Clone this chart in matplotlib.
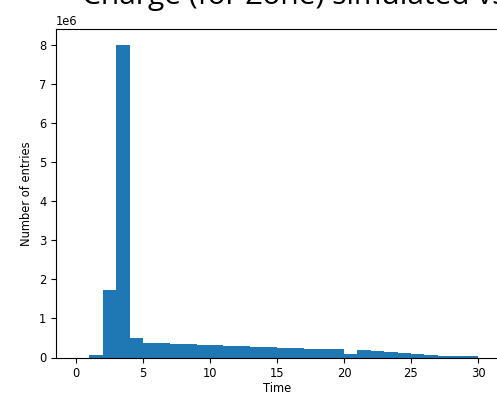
import numpy as np
import matplotlib
matplotlib.use("Agg")
import matplotlib.pyplot as plt

# histogram of simulated charge arrival times, one bin per time unit
bin_edges = np.arange(0, 31)
counts = np.array([
    0.00, 0.07, 1.73, 8.02, 0.50,
    0.37, 0.37, 0.34, 0.34, 0.32,
    0.32, 0.30, 0.30, 0.27, 0.27,
    0.25, 0.25, 0.23, 0.23, 0.21,
    0.10, 0.19, 0.16, 0.14, 0.12,
    0.09, 0.07, 0.05, 0.05, 0.05,
]) * 1e6

title = "Charge (for Zone) simulated vs measured"

fig = plt.figure(figsize=(4.97, 3.93), dpi=100)
ax = fig.add_axes([56 / 497, 35.5 / 393, 442 / 497, 328.5 / 393])

ax.hist(bin_edges[:-1], bins=bin_edges, weights=counts, color="#1f77b4")
ax.set_xticks([0, 5, 10, 15, 20, 25, 30])
ax.set_xlabel("Time", fontsize=8.3, labelpad=1)
ax.set_ylabel("Number of entries", fontsize=8.3)
ax.tick_params(labelsize=8.3)
ax.yaxis.get_offset_text().set_fontsize(8.3)

fig.text(82 / 497, 1 - 4 / 393, title, ha="left", va="baseline",
         fontsize=21.5, family="Open Sans")

fig.savefig("out.png", dpi=100)
